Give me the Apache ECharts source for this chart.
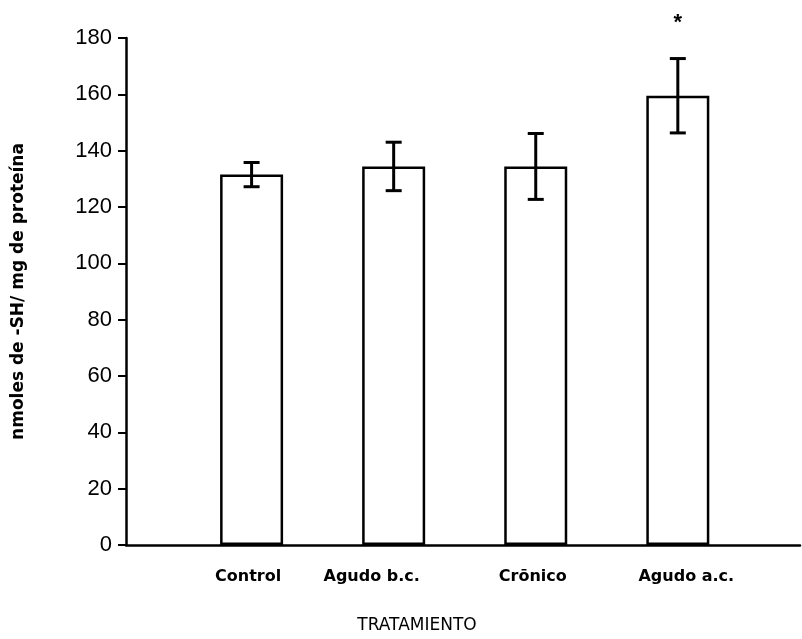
<!DOCTYPE html>
<html>
<head>
<meta charset="utf-8">
<script src="https://cdn.jsdelivr.net/npm/echarts@6/dist/echarts.min.js"></script>
<style>html,body{margin:0;padding:0;background:#fff}#c{width:802px;height:639px}</style>
</head>
<body>
<div id="c"></div>
<script>
const categories = ['Control', 'Agudo b.c.', 'Crōnico', 'Agudo a.c.'];
const means = [131.5, 134.4, 134.4, 159.5];
const errors = [4.3, 8.6, 11.7, 13.2];
const significant = [false, false, false, true];
const yTicks = [0, 20, 40, 60, 80, 100, 120, 140, 160, 180];

const positions = categories.map((c, i) => i + 1);
const numFont = '"Liberation Sans", Arial, Helvetica, sans-serif';
const txtFont = '"DejaVu Sans", Verdana, sans-serif';
// per-label horizontal nudges (styling only), as rich-text paddings
const labelRich = {
  l0: { padding: [0, 7, 0, 0] },
  l1: { padding: [0, 44, 0, 0] },
  l2: { padding: [0, 6, 0, 0] },
  l3: { padding: [0, 0, 0, 17] }
};

const chart = echarts.init(document.getElementById('c'));
chart.setOption({
  animation: false,
  backgroundColor: '#fff',
  grid: { left: 126, right: 2, top: 38, bottom: 88 },
  xAxis: {
    type: 'value',
    min: 0.116,
    max: 4.86,
    splitLine: { show: false },
    axisLine: { show: true, lineStyle: { color: '#000', width: 2.5 } },
    axisTick: { show: false },
    axisLabel: {
      customValues: positions,
      formatter: v => { const i = Math.round(v) - 1; return '{l' + i + '|' + (categories[i] || '') + '}'; },
      rich: labelRich,
      color: '#000', fontSize: 16, fontWeight: 'bold', fontFamily: txtFont, margin: 24
    },
    name: 'TRATAMIENTO',
    nameLocation: 'middle',
    nameGap: 72,
    nameTextStyle: { color: '#000', fontSize: 17, fontFamily: txtFont, padding: [0, 92, 0, 0] }
  },
  yAxis: {
    type: 'value',
    min: yTicks[0],
    max: yTicks[yTicks.length - 1],
    interval: 20,
    splitLine: { show: false },
    axisLine: { show: true, lineStyle: { color: '#000', width: 2.5 } },
    axisTick: { show: true, inside: false, length: 8, lineStyle: { color: '#000', width: 2 } },
    axisLabel: { color: '#000', fontSize: 22, fontFamily: numFont, margin: 14 },
    name: 'nmoles de -SH/ mg de proteína',
    nameLocation: 'middle',
    nameGap: 99,
    nameTextStyle: { color: '#000', fontSize: 17, fontWeight: 'bold', fontFamily: txtFont }
  },
  series: [
    {
      type: 'bar',
      data: positions.map((p, i) => [p, means[i]]),
      barWidth: 63,
      itemStyle: { color: '#fff', borderColor: '#000', borderWidth: 2.5 },
      silent: true
    },
    {
      type: 'custom',
      clip: false,
      data: positions.map((p, i) => [p, means[i], errors[i], significant[i] ? 1 : 0]),
      renderItem: function (params, api) {
        const x = api.value(0), m = api.value(1), e = api.value(2), s = api.value(3);
        const top = api.coord([x, m + e]);
        const bot = api.coord([x, m - e]);
        const hw = 8;
        const style = { stroke: '#000', lineWidth: 3 };
        const children = [
          { type: 'line', shape: { x1: top[0], y1: top[1], x2: bot[0], y2: bot[1] }, style },
          { type: 'line', shape: { x1: top[0] - hw, y1: top[1], x2: top[0] + hw, y2: top[1] }, style },
          { type: 'line', shape: { x1: bot[0] - hw, y1: bot[1], x2: bot[0] + hw, y2: bot[1] }, style }
        ];
        if (s) {
          children.push({
            type: 'text',
            style: { text: '*', x: top[0], y: top[1] - 36, align: 'center', verticalAlign: 'middle',
              fill: '#000', font: 'bold 22px ' + numFont }
          });
        }
        return { type: 'group', children };
      },
      z: 5
    }
  ]
});
</script>
</body>
</html>
